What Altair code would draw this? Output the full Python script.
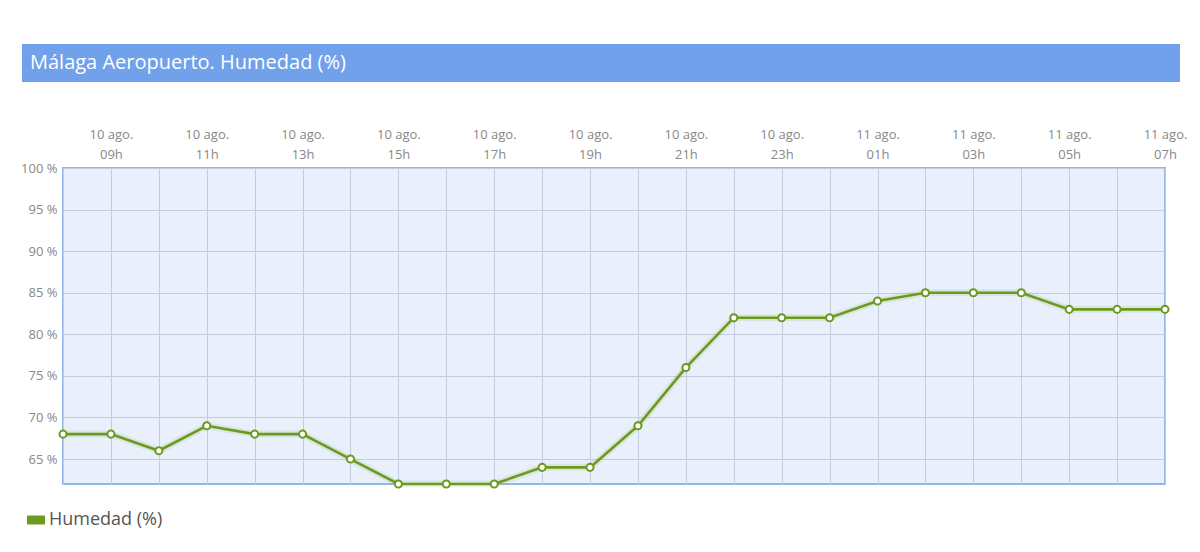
import altair as alt
import pandas as pd

title_text = "Málaga Aeropuerto. Humedad (%)"
series_name = "Humedad (%)"

labels = [
    "10 ago.|08h", "10 ago.|09h", "10 ago.|10h", "10 ago.|11h", "10 ago.|12h",
    "10 ago.|13h", "10 ago.|14h", "10 ago.|15h", "10 ago.|16h", "10 ago.|17h",
    "10 ago.|18h", "10 ago.|19h", "10 ago.|20h", "10 ago.|21h", "10 ago.|22h",
    "10 ago.|23h", "11 ago.|00h", "11 ago.|01h", "11 ago.|02h", "11 ago.|03h",
    "11 ago.|04h", "11 ago.|05h", "11 ago.|06h", "11 ago.|07h",
]
shown_labels = labels[1::2]
humedad = [68, 68, 66, 69, 68, 68, 65, 62, 62, 62, 64, 64,
           69, 76, 82, 82, 82, 84, 85, 85, 85, 83, 83, 83]
y_ticks = [65, 70, 75, 80, 85, 90, 95, 100]

df = pd.DataFrame({"t": labels, "v": humedad, "serie": [series_name] * len(labels)})

GREEN = "#6b9a1e"
FONT = "Open Sans"
shown_js = "[" + ",".join("'" + s + "'" for s in shown_labels) + "]"

x = alt.X(
    "t:O",
    sort=labels,
    scale=alt.Scale(type="point", padding=0),
    axis=alt.Axis(
        orient="top", title=None, ticks=False, domain=False, grid=True,
        gridColor="#c3cbdc", gridWidth=1, labelAngle=0,
        labelExpr="indexof(" + shown_js + ", datum.value) >= 0 ? split(datum.value, '|') : ''",
        labelFont=FONT, labelFontSize=13, labelColor="#888888", labelPadding=27,
        labelLineHeight=20, labelBaseline="bottom", labelOverlap=False,
    ),
)
y = alt.Y(
    "v:Q",
    scale=alt.Scale(domain=[62, 100], nice=False, zero=False),
    axis=alt.Axis(
        title=None, values=y_ticks, ticks=False, domain=False, grid=True,
        gridColor="#c3cbdc", gridWidth=1, labelExpr="datum.value + ' %'",
        labelFont=FONT, labelFontSize=13, labelColor="#888888", labelPadding=6,
    ),
)

base = alt.Chart(df)

shadow = base.mark_line(strokeWidth=7, color=GREEN, opacity=0.12).encode(x=x, y=y)
line = base.mark_line(strokeWidth=2.6).encode(
    x=x, y=y,
    color=alt.Color(
        "serie:N", scale=alt.Scale(range=[GREEN]),
        legend=alt.Legend(
            title=None, orient="none", legendX=-36, legendY=343,
            symbolType="M-1,-0.5H1V0.5H-1Z", symbolSize=324,
            symbolFillColor=GREEN, symbolStrokeWidth=0, symbolStrokeColor=GREEN,
            labelFont=FONT, labelFontSize=18, labelColor="#555555", labelOffset=4,
        ),
    ),
)
points = base.mark_point(filled=True, fill="white", stroke=GREEN, strokeWidth=2,
                         size=50, opacity=1).encode(x=x, y=y)

bar = alt.Chart(pd.DataFrame({"a": [0]})).mark_rect(color="#70a1ea").encode(
    x=alt.value(-41), x2=alt.value(1117), y=alt.value(-124), y2=alt.value(-86)
)
title = alt.Chart(pd.DataFrame({"a": [0]})).mark_text(
    text=title_text, font=FONT, fontSize=20, color="white", align="left", baseline="middle"
).encode(x=alt.value(-33), y=alt.value(-105))

chart = alt.layer(bar, title, shadow, line, points).properties(
    width=1102, height=316,
    autosize=alt.AutoSizeParams(type="none"),
    padding={"left": 55, "top": 160, "right": 27, "bottom": 50},
    background="white",
).configure_view(
    fill="#e9f0fb", stroke="#95b5e8", strokeWidth=2
)

chart.save("out.html", embed_options={"renderer": "svg", "actions": False})
